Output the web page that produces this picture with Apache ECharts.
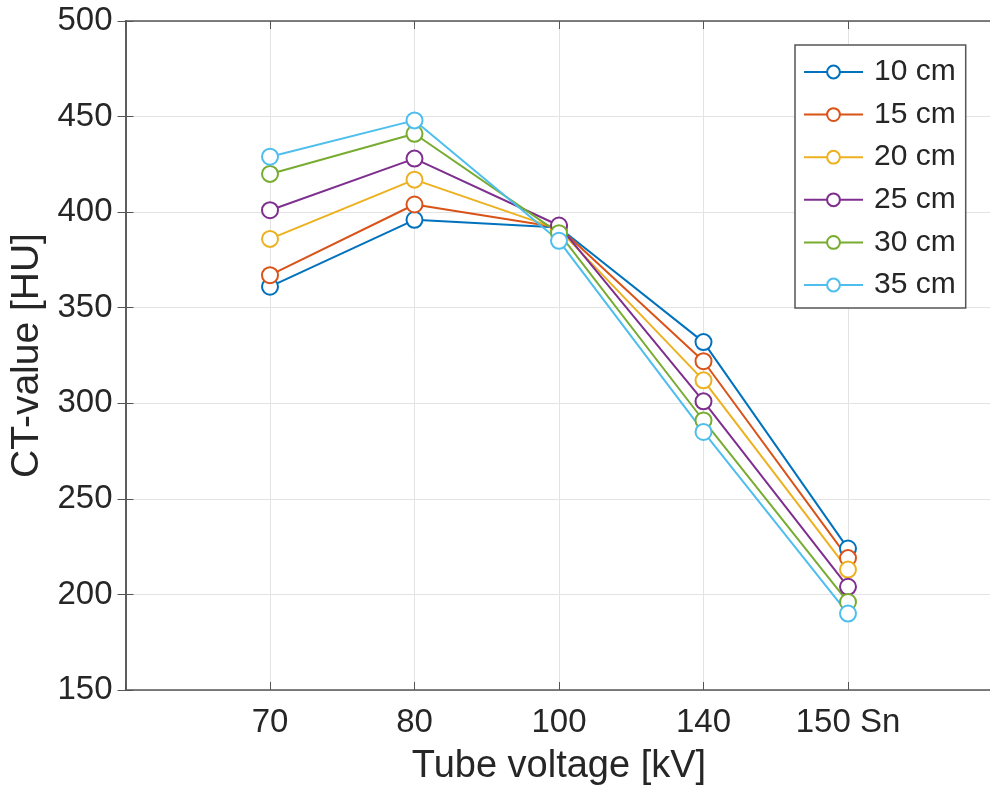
<!DOCTYPE html>
<html>
<head>
<meta charset="utf-8">
<script src="https://cdn.jsdelivr.net/npm/echarts@6/dist/echarts.min.js"></script>
<style>html,body{margin:0;padding:0;background:#fff;}#c{width:990px;height:795px;}</style>
</head>
<body>
<div id="c"></div>
<script>
const xCategories = ['70', '80', '100', '140', '150 Sn'];
const seriesNames = ['10 cm', '15 cm', '20 cm', '25 cm', '30 cm', '35 cm'];
const s10 = [361, 396, 392, 332, 224];
const s15 = [367, 404, 392, 322, 219];
const s20 = [386, 417, 391, 312, 213];
const s25 = [401, 428, 393, 301, 204];
const s30 = [420, 441, 389, 291, 196];
const s35 = [429, 448, 385, 285, 190];
const seriesValues = [s10, s15, s20, s25, s30, s35];
const colors = ['#0072BD', '#D95319', '#EDB120', '#7E2F8E', '#77AC30', '#4DBEEE'];

const txt = '#262626';
const axisCol = '#555555';
const font = 'Liberation Sans, Arial, sans-serif';
const chart = echarts.init(document.getElementById('c'));

const series = seriesNames.map((n, i) => ({
  name: n,
  type: 'line',
  data: seriesValues[i].map((v, j) => [j + 1, v]),
  symbol: 'emptyCircle',
  symbolSize: 16,
  showSymbol: true,
  lineStyle: { width: 2, color: colors[i] },
  itemStyle: { color: colors[i], borderWidth: 2, borderColor: colors[i] },
  emphasis: { disabled: true },
  z: 3
}));

chart.setOption({
  animation: false,
  color: colors,
  grid: { left: 125.5, width: 867, top: 21, bottom: 105, containLabel: false, outerBoundsMode: 'none' },
  legend: {
    orient: 'vertical',
    left: 795,
    top: 45,
    data: seriesNames,
    backgroundColor: '#fff',
    borderColor: axisCol,
    borderWidth: 1.5,
    padding: [12, 10, 8, 8],
    itemWidth: 59,
    itemHeight: 16,
    itemGap: 12.6,
    textStyle: { fontFamily: font, fontSize: 30, color: txt, lineHeight: 30, padding: [0, 0, 0, 6] },
    selectedMode: false
  },
  xAxis: [{
    type: 'value', min: 0, max: 6, interval: 1,
    name: 'Tube voltage [kV]', nameLocation: 'middle', nameGap: 58,
    nameTextStyle: { fontFamily: font, fontSize: 38, color: txt },
    axisLine: { show: true, lineStyle: { color: axisCol, width: 1.5 } },
    axisTick: { show: true, inside: true, length: 8, lineStyle: { color: axisCol } },
    axisLabel: { fontFamily: font, fontSize: 33, color: txt, margin: 16,
      formatter: v => (v >= 1 && v <= xCategories.length) ? xCategories[v - 1] : '' },
    splitLine: { show: true, lineStyle: { color: '#e3e3e3', width: 1 } }
  }, {
    type: 'value', min: 0, max: 6, interval: 1, position: 'top',
    axisLine: { show: true, lineStyle: { color: axisCol, width: 1.5 } },
    axisTick: { show: true, inside: true, length: 8, lineStyle: { color: axisCol } },
    axisLabel: { show: false }, splitLine: { show: false }
  }],
  yAxis: [{
    type: 'value', min: 150, max: 500, interval: 50,
    name: 'CT-value [HU]', nameLocation: 'middle', nameGap: 58,
    nameTextStyle: { fontFamily: font, fontSize: 39, color: txt },
    axisLine: { show: true, lineStyle: { color: axisCol, width: 1.5 } },
    axisTick: { show: true, inside: true, length: 8, lineStyle: { color: axisCol } },
    axisLabel: { fontFamily: font, fontSize: 33, color: txt, margin: 13 },
    splitLine: { show: true, lineStyle: { color: '#e3e3e3', width: 1 } }
  }, {
    type: 'value', min: 150, max: 500, interval: 50, position: 'right',
    axisLine: { show: true, lineStyle: { color: axisCol, width: 1.5 } },
    axisTick: { show: true, inside: true, length: 8, lineStyle: { color: axisCol } },
    axisLabel: { show: false }, splitLine: { show: false }
  }],
  series: series
});
</script>
</body>
</html>
